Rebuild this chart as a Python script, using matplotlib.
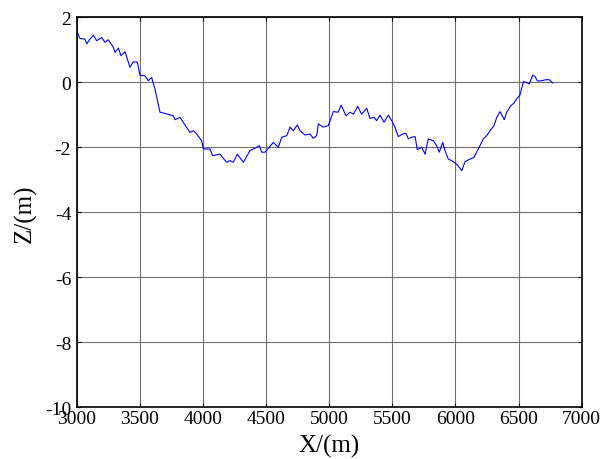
import numpy as np
import matplotlib.pyplot as plt
import matplotlib

matplotlib.rc('font', family='Liberation Serif', size=14)
matplotlib.rcParams['axes.unicode_minus'] = False

# profile
x = [3005, 3026, 3066, 3079, 3105, 3132, 3158, 3198, 3224, 3250, 3290, 3303,
     3330, 3351, 3383, 3422, 3448, 3480, 3501, 3541, 3567, 3594, 3620, 3660,
     3765, 3779, 3818, 3897, 3924, 3950, 3990, 4003, 4056, 4077, 4135, 4161,
     4188, 4214, 4240, 4272, 4320, 4373, 4426, 4447, 4465, 4492, 4557, 4597,
     4624, 4664, 4690, 4716, 4748, 4769, 4808, 4848, 4874, 4901, 4914, 4953,
     4993, 5033, 5072, 5094, 5133, 5165, 5191, 5226, 5257, 5297, 5323, 5355,
     5376, 5402, 5434, 5468, 5495, 5521, 5547, 5582, 5608, 5627, 5654, 5680,
     5698, 5733, 5759, 5785, 5825, 5851, 5872, 5899, 5917, 5943, 5983, 6015,
     6050, 6076, 6116, 6147, 6181, 6221, 6248, 6274, 6306, 6327, 6353, 6387,
     6406, 6438, 6464, 6485, 6511, 6538, 6559, 6585, 6612, 6630, 6649, 6683,
     6717, 6744, 6770]
z = [1.54, 1.35, 1.33, 1.18, 1.33, 1.45, 1.28, 1.38, 1.23, 1.31, 1.08, 0.92,
     1.05, 0.82, 0.94, 0.46, 0.63, 0.62, 0.22, 0.20, 0.05, 0.15, -0.21, -0.92,
     -1.03, -1.15, -1.08, -1.54, -1.49, -1.59, -1.80, -2.05, -2.05, -2.26, -2.21, -2.34,
     -2.46, -2.41, -2.46, -2.21, -2.46, -2.10, -2.00, -1.95, -2.15, -2.15, -1.85, -2.00,
     -1.69, -1.64, -1.38, -1.49, -1.31, -1.49, -1.62, -1.59, -1.72, -1.64, -1.28, -1.38,
     -1.33, -0.90, -0.92, -0.70, -1.03, -0.92, -0.98, -0.74, -0.98, -0.80, -1.11, -1.08,
     -1.18, -1.01, -1.23, -1.01, -1.18, -1.38, -1.67, -1.59, -1.57, -1.74, -1.69, -1.67,
     -2.07, -2.00, -2.21, -1.74, -1.80, -1.95, -2.15, -1.85, -2.10, -2.36, -2.44, -2.54,
     -2.72, -2.44, -2.36, -2.31, -2.05, -1.74, -1.64, -1.49, -1.33, -1.08, -0.90, -1.15,
     -0.92, -0.72, -0.64, -0.51, -0.39, 0.02, 0.00, -0.05, 0.22, 0.18, 0.04, 0.05,
     0.08, 0.08, -0.02]

fig = plt.figure(figsize=(6.02, 4.6), dpi=100)
ax = fig.add_axes([0.1274, 0.1124, 0.8389, 0.8478])
ax.plot(x, z, color='blue', linewidth=0.8)
ax.set_xlim(3000, 7000)
ax.set_ylim(-10, 2)
ax.set_xticks(np.arange(3000, 7001, 500))
ax.set_yticks(np.arange(-10, 3, 2))
ax.grid(color='#707070', linewidth=0.8)
ax.tick_params(direction='in', top=True, right=True, length=3, pad=2)
ax.tick_params(axis='y', pad=4)
for s in ax.spines.values():
    s.set_linewidth(1.2)
ax.set_xlabel('X/(m)', fontsize=18, labelpad=5)
ax.set_ylabel('Z/(m)', fontsize=18, labelpad=6)
plt.savefig('out.png', dpi=100)
